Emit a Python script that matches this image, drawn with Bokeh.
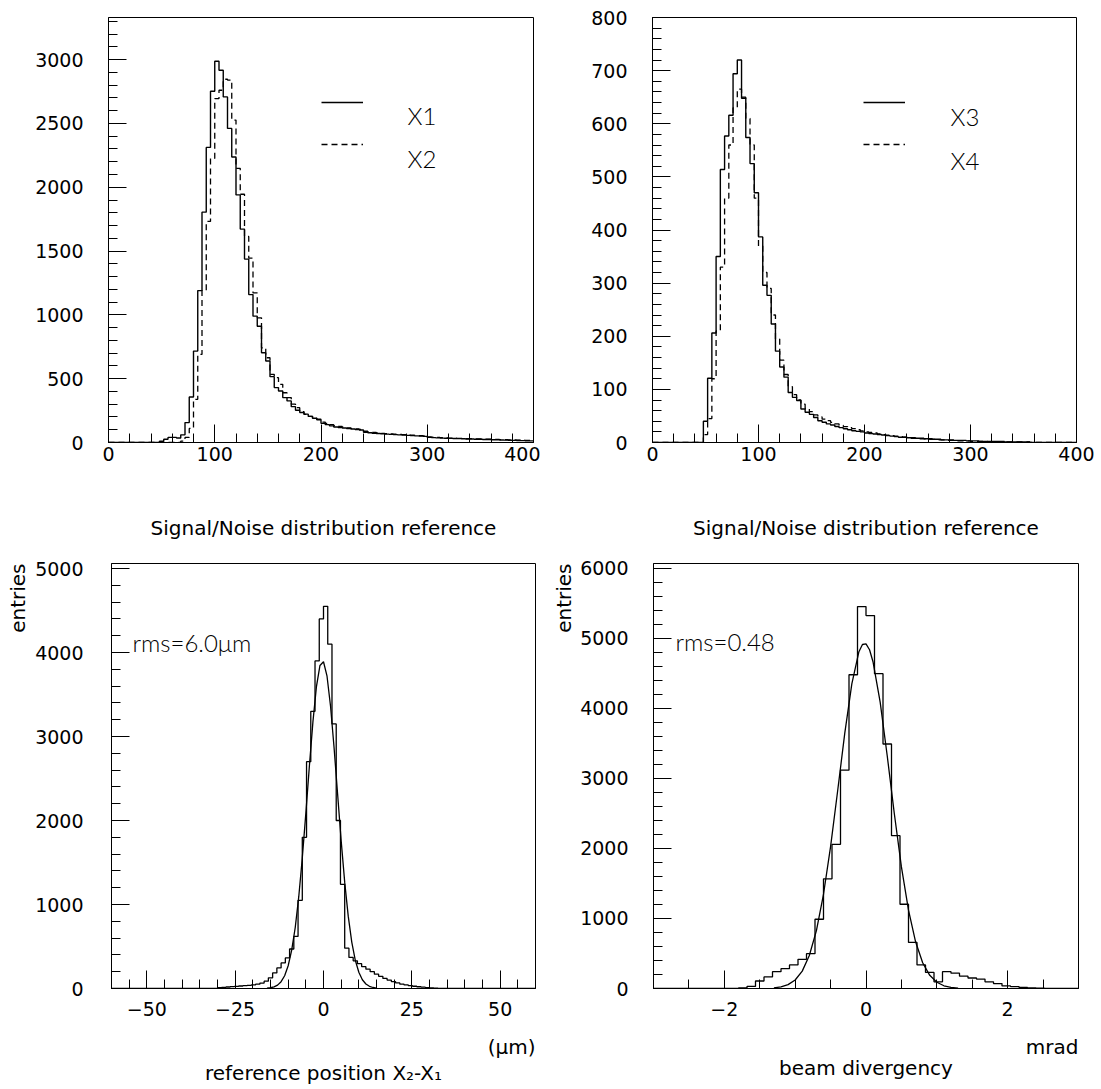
from bokeh.plotting import figure
from bokeh.layouts import column, row
from bokeh.models import (Range1d, SingleIntervalTicker, FixedTicker, Label, Legend,
                          LegendItem, LinearAxis, Title)
from bokeh.embed import file_html
from bokeh.resources import INLINE

# ---------------- data ----------------
# Signal/Noise histograms: 100 bins over 0..400
sn_lo, sn_hi, sn_nbins = 0, 400, 100

x1_counts = [0]*12 + [
    10, 25, 40, 40, 35, 60, 156, 357,
    716, 1190, 1805, 2312, 2752, 2987, 2917, 2708, 2461, 2237,
    1940, 1672, 1437, 1159, 990, 911, 703, 638, 516, 430,
    404, 352, 326, 281, 253, 235, 222, 205, 190, 178,
    150, 140, 130, 122, 118, 114, 110, 106, 102, 98,
    80, 76, 72, 70, 68, 66, 64, 62, 60, 58,
    56, 54, 52, 50, 48, 40, 38, 36, 34, 33,
    32, 31, 30, 29, 28, 27, 26, 25, 24, 23,
    22, 21, 20, 19, 18, 17, 16, 15, 14, 13]

x2_counts = [0]*17 + [
    10, 40, 110,
    338, 690, 1190, 1732, 2226, 2695, 2760, 2846, 2840, 2526,
    2148, 1945, 1614, 1445, 1172, 977, 742, 664, 534, 508,
    456, 390, 352, 300, 273, 242, 221, 205, 192, 182,
    160, 150, 140, 132, 126, 120, 115, 110, 106, 102,
    88, 84, 80, 76, 72, 70, 68, 66, 64, 62,
    60, 58, 56, 54, 52, 44, 42, 40, 38, 36,
    35, 34, 33, 32, 31, 30, 29, 28, 27, 26,
    25, 24, 23, 22, 21, 20, 19, 18, 17, 16]

x3_counts = [0]*12 + [
    40, 121, 206, 350, 514, 577, 616, 694,
    720, 648, 574, 525, 470, 387, 296, 277, 223, 172,
    142, 123, 94, 85, 79, 63, 57, 53, 47, 41,
    38, 35, 33, 30, 28, 26, 24, 22, 21, 20,
    18, 17, 16, 15, 14, 13, 12, 11, 10, 10,
    9, 9, 8, 8, 7, 7, 6, 6, 5, 5,
    5, 4, 4, 4, 3, 3, 3, 2, 2, 2,
    2, 2, 2, 1, 1, 1, 1, 1, 1, 0,
    0, 0, 0, 0, 0, 0, 0, 0, 0, 0]

x4_counts = [0]*12 + [
    15, 45, 120, 210, 330, 460, 560, 630,
    665, 650, 610, 560, 460, 370, 320, 290, 240, 195,
    155, 128, 105, 90, 80, 72, 64, 58, 52, 48,
    44, 41, 38, 35, 32, 30, 28, 26, 24, 22,
    20, 19, 18, 16, 15, 14, 13, 12, 11, 10,
    9, 8, 8, 7, 7, 6, 6, 5, 5, 4,
    4, 4, 3, 3, 3, 2, 2, 2, 2, 1,
    1, 1, 1, 1, 1, 1, 1, 1, 1, 0,
    0, 0, 0, 0, 0, 0, 0, 0, 0, 0]

# reference position X2-X1: 100 bins over -60..60 (um)
res_lo, res_hi, res_nbins = -60, 60, 100
res_counts = [0]*25 + [
    10, 14, 18, 22, 26,
    30, 34, 38, 44, 52, 64, 87, 127, 186, 245,
    305, 364, 470, 620, 1050, 1800, 2700, 3300, 3900, 4400,
    4550, 4100, 3150, 2000, 1240, 480, 370, 330, 295, 260,
    230, 200, 170, 145, 120, 100, 82, 66, 52, 42,
    34, 27, 21, 16, 11, 7, 4] + [0]*23
res_fit_x = list(range(-16, 16))
res_fit_y = [4, 9, 19, 40, 81, 152, 271, 457, 726, 1093, 1553, 2085, 2646, 3171,
             3593, 3846, 3890, 3718, 3357, 2864, 2309, 1759, 1266, 861, 553, 336,
             193, 104, 54, 26, 12, 5]

# beam divergency: 50 bins over -3..3 (mrad)
div_lo, div_hi, div_nbins = -3, 3, 50
div_counts = [0]*10 + [
    8, 30, 107, 166, 240, 283, 337, 417, 497, 989,
    1567, 2059, 3118, 4481, 5455, 5326, 4497, 3492, 2182, 1203,
    658, 337, 230, 96, 240, 219, 176, 150, 134, 96,
    70, 37, 27, 15, 10, 5, 3, 2, 0, 0]
div_fit_x = [-1.3, -1.2, -1.1, -1.0, -0.9, -0.8, -0.7, -0.6, -0.5, -0.4, -0.3, -0.2,
             -0.1, -0.05, 0.0, 0.05, 0.1, 0.2, 0.3, 0.4, 0.5, 0.6, 0.7, 0.8, 0.9,
             1.0, 1.1, 1.2, 1.3]
div_fit_y = [9, 23, 55, 121, 248, 471, 827, 1346, 2027, 2824, 3643, 4351,
             4810, 4913, 4922, 4838, 4663, 4090, 3321, 2496, 1736, 1119, 667, 368, 188,
             89, 39, 16, 6]

# ---------------- styling ----------------
TICK_FONT = "DejaVu Sans"
TEXT_FONT = "DejaVu Sans"
THIN_FONT = "Lato Light"


def edges(lo, hi, n):
    w = (hi - lo) / n
    return [lo + w * i for i in range(n + 1)]


def step_xy(lo, hi, counts):
    e = edges(lo, hi, len(counts))
    return e, list(counts) + [counts[-1]]


def make_title(text, align, standoff):
    return Title(text=text, align=align, standoff=standoff, text_font=TEXT_FONT,
                 text_font_size="20px", text_font_style="normal", text_color="black")


def make_fig(width, height, xr, yr, bl, bt, br, bb, xint, xminor, yint, yminor,
             ystand=25, xstand=4):
    p = figure(width=width, height=height, x_range=Range1d(*xr), y_range=Range1d(*yr),
               output_backend="svg", toolbar_location=None, title=None,
               min_border_left=bl, min_border_top=bt, min_border_right=br,
               min_border_bottom=bb)
    p.grid.visible = False
    p.background_fill_color = "white"
    p.border_fill_color = "white"
    p.outline_line_color = "black"
    p.outline_line_width = 1
    p.outline_line_alpha = 1
    p.xaxis.ticker = SingleIntervalTicker(interval=xint, num_minor_ticks=xminor)
    p.yaxis.ticker = SingleIntervalTicker(interval=yint, num_minor_ticks=yminor)
    for ax in (p.xaxis[0], p.yaxis[0]):
        ax.axis_line_color = "black"
        ax.axis_line_width = 1
        ax.major_tick_in = 18
        ax.major_tick_out = 0
        ax.minor_tick_in = 9
        ax.minor_tick_out = 0
        ax.major_tick_line_color = "black"
        ax.minor_tick_line_color = "black"
        ax.major_tick_line_width = 1
        ax.minor_tick_line_width = 1
        ax.major_label_text_font = TICK_FONT
        ax.major_label_text_font_size = "19px"
        ax.major_label_text_color = "black"
    p.yaxis.major_label_standoff = ystand
    p.xaxis.major_label_standoff = xstand
    return p


def add_text(p, x, y, text, size="24px", align="left", baseline="middle",
             font=THIN_FONT):
    p.add_layout(Label(x=x, y=y, x_units="screen", y_units="screen", text=text,
                       text_font=font, text_font_size=size, text_align=align,
                       text_baseline=baseline, text_color="black"))


def add_legend(p, r1, r2, xloc):
    leg = Legend(items=[LegendItem(label=" ", renderers=[r1]),
                        LegendItem(label=" ", renderers=[r2])],
                 location=(xloc, 277), orientation="vertical",
                 border_line_color=None, background_fill_alpha=0,
                 padding=0, margin=0, spacing=0,
                 glyph_width=42, glyph_height=42, label_height=42,
                 label_standoff=0, label_text_font_size="8px")
    p.add_layout(leg, "center")


def panel_texts(p, top_text, unit_text, main_text, left_standoff, unit_standoff,
                main_standoff):
    p.add_layout(make_title(top_text, "center", 47), "above")
    p.add_layout(make_title("entries", "right", left_standoff), "left")
    p.add_layout(make_title(unit_text, "right", unit_standoff), "below")
    ax2 = LinearAxis(ticker=FixedTicker(ticks=[]), axis_line_color=None,
                     major_tick_line_color=None, minor_tick_line_color=None,
                     major_label_standoff=0, axis_label=main_text,
                     axis_label_text_font=TEXT_FONT, axis_label_text_font_size="20px",
                     axis_label_text_font_style="normal", axis_label_text_color="black",
                     axis_label_standoff=main_standoff)
    p.add_layout(ax2, "below")


# ---------------- top-left ----------------
p1 = make_fig(540, 490, (sn_lo, sn_hi), (0, 3330), 108, 16, 7, 48, 100, 5, 500, 5)
ex, y1 = step_xy(sn_lo, sn_hi, x1_counts)
_, y2 = step_xy(sn_lo, sn_hi, x2_counts)
r1 = p1.step(ex, y1, mode="after", line_color="black", line_width=1.4)
r2 = p1.step(ex, y2, mode="after", line_color="black", line_width=1.3, line_dash="6 4")
add_legend(p1, r1, r2, 213)
add_text(p1, 299, 327, "X1")
add_text(p1, 299, 284, "X2")

# ---------------- top-right ----------------
p2 = make_fig(561, 490, (sn_lo, sn_hi), (0, 800), 112, 17, 25, 48, 100, 5, 100, 5)
_, y3 = step_xy(sn_lo, sn_hi, x3_counts)
_, y4 = step_xy(sn_lo, sn_hi, x4_counts)
r3 = p2.step(ex, y3, mode="after", line_color="black", line_width=1.4)
r4 = p2.step(ex, y4, mode="after", line_color="black", line_width=1.3, line_dash="6 4")
add_legend(p2, r3, r4, 211)
add_text(p2, 298, 326, "X3")
add_text(p2, 298, 282, "X4")

# ---------------- bottom-left ----------------
p3 = make_fig(540, 599, (res_lo, res_hi), (0, 5060), 111, 73, 5, 100, 25, 5, 1000, 5,
              ystand=28, xstand=13)
exr, yr_ = step_xy(res_lo, res_hi, res_counts)
p3.step(exr, yr_, mode="after", line_color="black", line_width=1.3)
p3.line(res_fit_x, res_fit_y, line_color="black", line_width=1.3)
panel_texts(p3, "Signal/Noise distribution reference", "(\u03bcm)",
            "reference position X\u2082-X\u2081", 5, 28, -12)
add_text(p3, 21, 346, "rms=6.0\u03bcm")

# ---------------- bottom-right ----------------
p4 = make_fig(561, 599, (div_lo, div_hi), (0, 6070), 113, 73, 23, 101, 2, 4, 1000, 5,
              ystand=25, xstand=13)
exd, yd = step_xy(div_lo, div_hi, div_counts)
p4.step(exd, yd, mode="after", line_color="black", line_width=1.3)
p4.line(div_fit_x, div_fit_y, line_color="black", line_width=1.3)
panel_texts(p4, "Signal/Noise distribution reference", "mrad", "beam divergency",
            4, 28, -17)
add_text(p4, 22, 347, "rms=0.48")

layout = column(row(p1, p2), row(p3, p4))
open("out.html", "w").write(file_html(layout, INLINE))
